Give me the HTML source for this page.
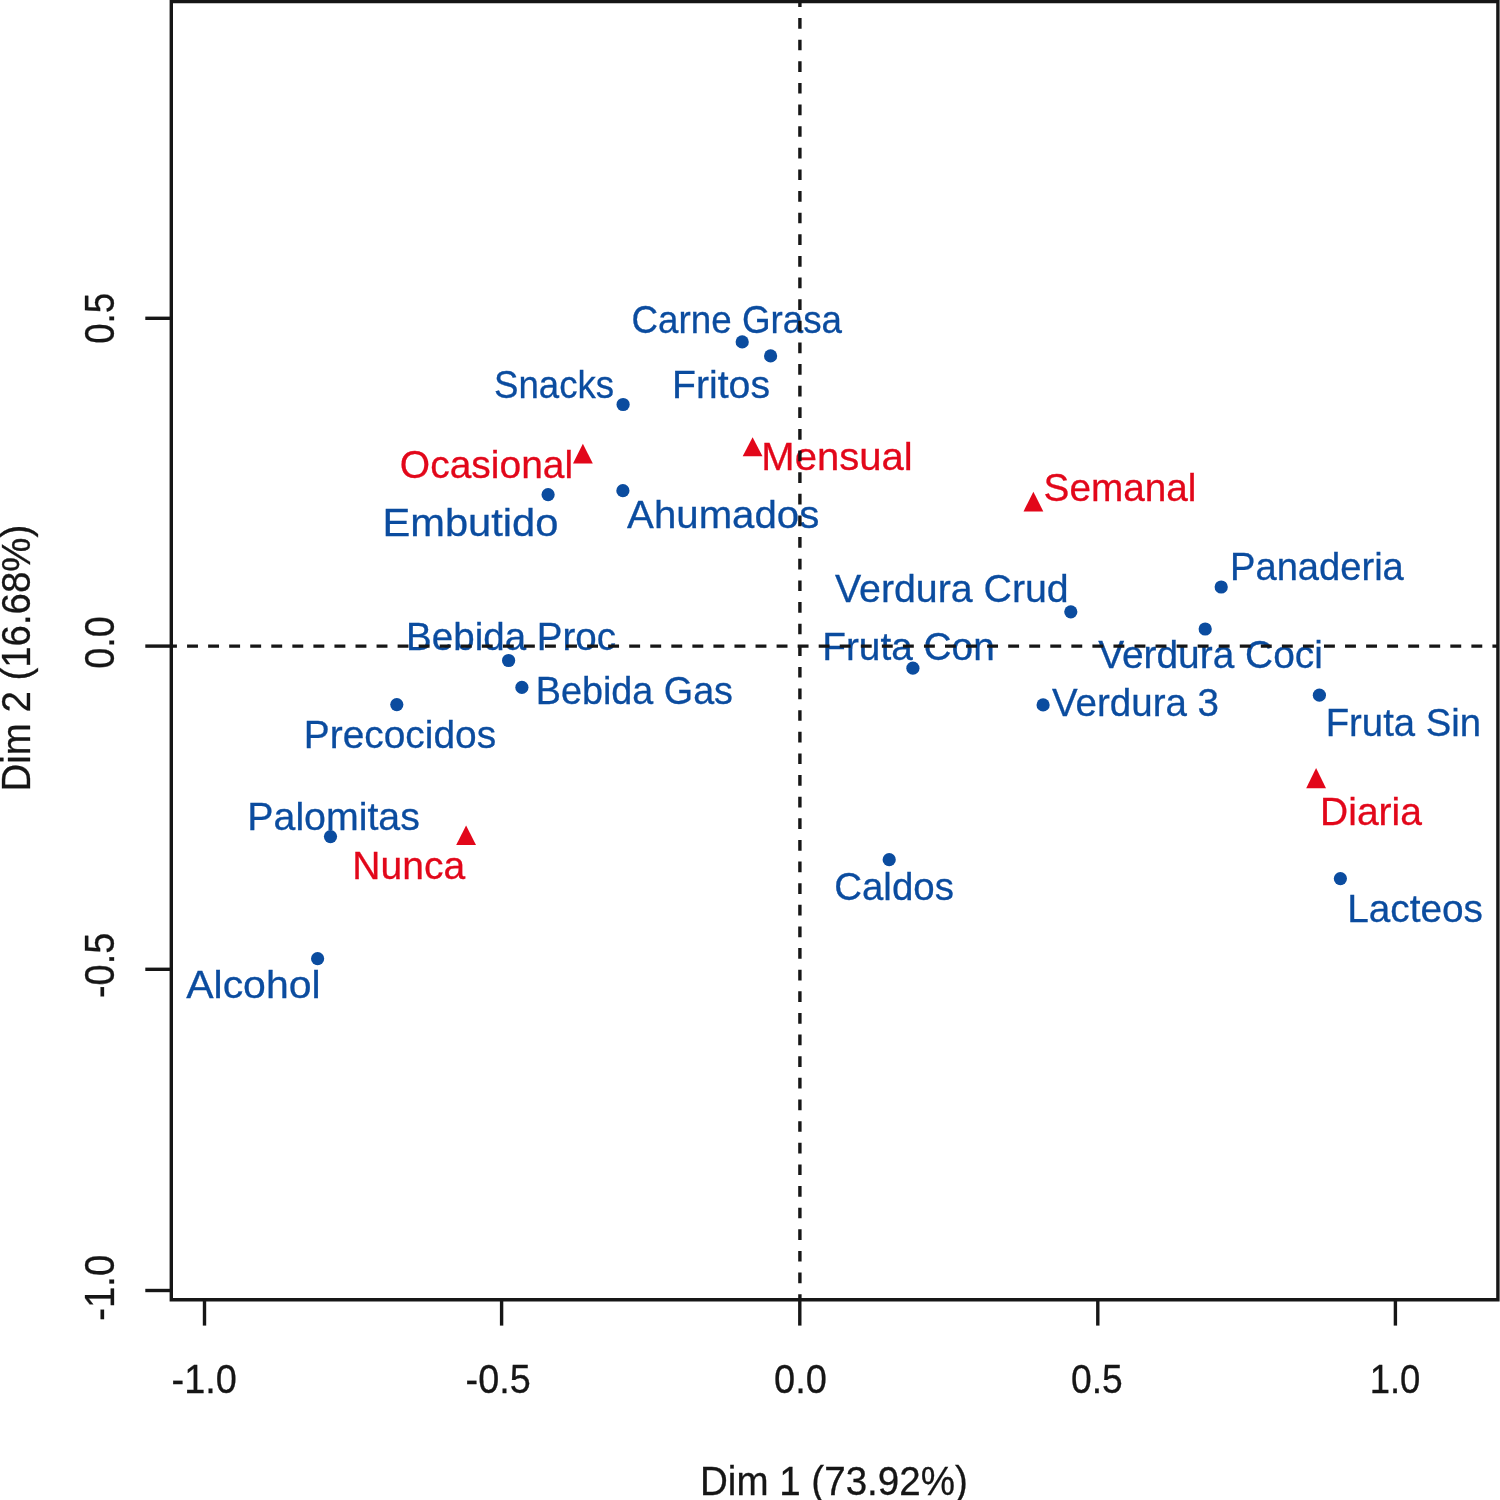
<!DOCTYPE html>
<html lang="es"><head><meta charset="utf-8"><title>Dim 1 / Dim 2</title>
<style>html,body{margin:0;padding:0;background:#fff}svg{display:block}text{font-family:"Liberation Sans",sans-serif;stroke-width:0.3px}</style></head><body>
<svg width="1500" height="1500" viewBox="0 0 1500 1500">
<rect width="1500" height="1500" fill="#fff"/>
<g fill="#0b4c9f">
<circle cx="742.2" cy="341.9" r="6.6"/>
<circle cx="770.6" cy="355.9" r="6.6"/>
<circle cx="623.1" cy="404.5" r="6.6"/>
<circle cx="548.1" cy="494.7" r="6.6"/>
<circle cx="622.9" cy="490.7" r="6.6"/>
<circle cx="508.6" cy="660.5" r="6.6"/>
<circle cx="521.9" cy="687.4" r="6.6"/>
<circle cx="396.8" cy="704.6" r="6.6"/>
<circle cx="330.5" cy="836.6" r="6.6"/>
<circle cx="317.6" cy="958.7" r="6.6"/>
<circle cx="912.9" cy="668.2" r="6.6"/>
<circle cx="1070.8" cy="611.8" r="6.6"/>
<circle cx="1221.2" cy="587.0" r="6.6"/>
<circle cx="1205.2" cy="629.0" r="6.6"/>
<circle cx="1043.1" cy="704.9" r="6.6"/>
<circle cx="1319.4" cy="695.2" r="6.6"/>
<circle cx="889.2" cy="859.7" r="6.6"/>
<circle cx="1340.4" cy="878.6" r="6.6"/>
</g>
<g fill="#e2071a">
<path d="M582.9 443.8L592.8 463.6L573.0 463.6Z"/>
<path d="M752.6 437.2L762.5 456.2L742.7 456.2Z"/>
<path d="M1033.4 491.8L1043.3 511.4L1023.5 511.4Z"/>
<path d="M1316.1 768.0L1326.0 788.2L1306.2 788.2Z"/>
<path d="M466.1 825.6L476.0 845.0L456.2 845.0Z"/>
</g>
<text transform="translate(631.58 333.10) scale(0.9309 1)" font-size="39.5" fill="#0b4c9f" stroke="#0b4c9f">Carne Grasa</text>
<text transform="translate(672.04 397.70) scale(0.9923 1)" font-size="39.5" fill="#0b4c9f" stroke="#0b4c9f">Fritos</text>
<text transform="translate(494.06 397.70) scale(0.9271 1)" font-size="39.5" fill="#0b4c9f" stroke="#0b4c9f">Snacks</text>
<text transform="translate(382.45 536.00) scale(1.0543 1)" font-size="39.5" fill="#0b4c9f" stroke="#0b4c9f">Embutido</text>
<text transform="translate(627.10 528.40) scale(1.0181 1)" font-size="39.5" fill="#0b4c9f" stroke="#0b4c9f">Ahumados</text>
<text transform="translate(835.00 601.80) scale(0.9952 1)" font-size="39.5" fill="#0b4c9f" stroke="#0b4c9f">Verdura Crud</text>
<text transform="translate(1230.02 579.50) scale(0.9653 1)" font-size="39.5" fill="#0b4c9f" stroke="#0b4c9f">Panaderia</text>
<text transform="translate(406.09 650.40) scale(0.9760 1)" font-size="39.5" fill="#0b4c9f" stroke="#0b4c9f">Bebida Proc</text>
<text transform="translate(822.17 659.80) scale(0.9834 1)" font-size="39.5" fill="#0b4c9f" stroke="#0b4c9f">Fruta Con</text>
<text transform="translate(1098.20 668.00) scale(0.9839 1)" font-size="39.5" fill="#0b4c9f" stroke="#0b4c9f">Verdura Coci</text>
<text transform="translate(535.75 703.90) scale(0.9560 1)" font-size="39.5" fill="#0b4c9f" stroke="#0b4c9f">Bebida Gas</text>
<text transform="translate(1052.00 716.40) scale(0.9753 1)" font-size="39.5" fill="#0b4c9f" stroke="#0b4c9f">Verdura 3</text>
<text transform="translate(303.86 747.60) scale(0.9839 1)" font-size="39.5" fill="#0b4c9f" stroke="#0b4c9f">Precocidos</text>
<text transform="translate(1325.71 735.80) scale(0.9700 1)" font-size="39.5" fill="#0b4c9f" stroke="#0b4c9f">Fruta Sin</text>
<text transform="translate(247.33 829.80) scale(0.9952 1)" font-size="39.5" fill="#0b4c9f" stroke="#0b4c9f">Palomitas</text>
<text transform="translate(834.20 899.90) scale(0.9736 1)" font-size="39.5" fill="#0b4c9f" stroke="#0b4c9f">Caldos</text>
<text transform="translate(1347.17 921.50) scale(0.9819 1)" font-size="39.5" fill="#0b4c9f" stroke="#0b4c9f">Lacteos</text>
<text transform="translate(186.20 997.90) scale(1.0374 1)" font-size="39.5" fill="#0b4c9f" stroke="#0b4c9f">Alcohol</text>
<text transform="translate(399.87 477.80) scale(0.9872 1)" font-size="39.5" fill="#e2071a" stroke="#e2071a">Ocasional</text>
<text transform="translate(761.27 470.20) scale(1.0145 1)" font-size="39.5" fill="#e2071a" stroke="#e2071a">Mensual</text>
<text transform="translate(1043.59 500.80) scale(0.9799 1)" font-size="39.5" fill="#e2071a" stroke="#e2071a">Semanal</text>
<text transform="translate(1320.05 825.40) scale(0.9877 1)" font-size="39.5" fill="#e2071a" stroke="#e2071a">Diaria</text>
<text transform="translate(352.35 878.60) scale(0.9879 1)" font-size="39.5" fill="#e2071a" stroke="#e2071a">Nunca</text>
<text transform="translate(171.52 1392.70) scale(0.9338 1)" font-size="40.6" fill="#161616" stroke="#161616">-1.0</text>
<text transform="translate(465.62 1392.70) scale(0.9307 1)" font-size="40.6" fill="#161616" stroke="#161616">-0.5</text>
<text transform="translate(774.11 1392.70) scale(0.9361 1)" font-size="40.6" fill="#161616" stroke="#161616">0.0</text>
<text transform="translate(1070.94 1392.70) scale(0.9173 1)" font-size="40.6" fill="#161616" stroke="#161616">0.5</text>
<text transform="translate(1369.72 1392.70) scale(0.8981 1)" font-size="40.6" fill="#161616" stroke="#161616">1.0</text>
<text transform="translate(699.99 1495.20) scale(0.9499 1)" font-size="40.6" fill="#161616" stroke="#161616">Dim 1 (73.92%)</text>
<text transform="translate(114.00 343.85) rotate(-90) scale(0.8825 1)" font-size="41.6" fill="#161616" stroke="#161616">0.5</text>
<text transform="translate(114.00 668.78) rotate(-90) scale(0.9082 1)" font-size="41.6" fill="#161616" stroke="#161616">0.0</text>
<text transform="translate(114.00 997.98) rotate(-90) scale(0.9098 1)" font-size="41.6" fill="#161616" stroke="#161616">-0.5</text>
<text transform="translate(114.00 1320.69) rotate(-90) scale(0.9186 1)" font-size="41.6" fill="#161616" stroke="#161616">-1.0</text>
<text transform="translate(29.90 791.40) rotate(-90) scale(0.9456 1)" font-size="40.6" fill="#161616" stroke="#161616">Dim 2 (16.68%)</text>
<g stroke="#161616" stroke-width="3.4" fill="none">
<path d="M171.3 1.6H1497.9V1299.8H171.3Z"/>
<path d="M204.5 1299.8V1325.6"/>
<path d="M501.6 1299.8V1325.6"/>
<path d="M799.8 1299.8V1325.6"/>
<path d="M1097.8 1299.8V1325.6"/>
<path d="M1395.4 1299.8V1325.6"/>
<path d="M171.3 318.3H145.3"/>
<path d="M171.3 646.1H145.3"/>
<path d="M171.3 969.3H145.3"/>
<path d="M171.3 1290.5H145.3"/>
<path d="M171.3 646.1H1497" stroke-dasharray="10.9 10.154" stroke-dashoffset="5.28"/>
<path d="M799.9 1.7V1299" stroke-dasharray="10.7 10.93" stroke-dashoffset="5.33"/>
</g>
</svg></body></html>
